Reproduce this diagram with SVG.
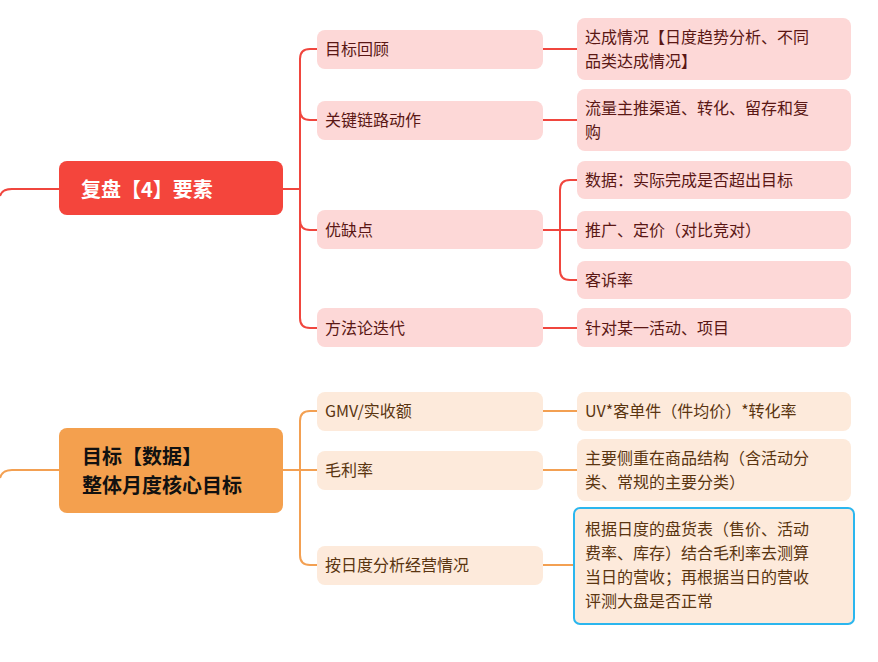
<svg xmlns="http://www.w3.org/2000/svg" width="878" height="662" viewBox="0 0 878 662">
<style>
text{font-family:"Noto Sans CJK SC","Liberation Sans",sans-serif;font-size:16px}
.r{fill:#fdd8d7}.rt{fill:#5a1714}
.o{fill:#fdeadb}.ot{fill:#5a3510}
.rl{stroke:#f0463e;stroke-width:2;fill:none}
.ol{stroke:#f3a052;stroke-width:2;fill:none}
.h{font-size:20px;font-weight:bold}
</style>
<rect width="878" height="662" fill="#fff"/>
<g id="connectors">
<path class="rl" d="M0,196 Q2,189 12,189 H59"/>
<path class="rl" d="M283,189 H300 M300,189 V59 Q300,49 310,49 H317 M300,110 Q300,120 310,120 H317 M300,189 V318 Q300,328 310,328 H317 M300,220 Q300,230 310,230 H317"/>
<path class="rl" d="M543,49 H577 M543,120 H577 M543,328 H577 M543,230 H560 M560,230 V190 Q560,180 570,180 H577 M560,230 H577 M560,230 V270 Q560,280 570,280 H577"/>
<path class="ol" d="M0,478 Q2,470 12,470 H59"/>
<path class="ol" d="M283,470 H317 M300,470 V421 Q300,411 310,411 H317 M300,470 V555 Q300,565 310,565 H317"/>
<path class="ol" d="M543,411 H577 M543,470 H577 M543,565 H573"/>
</g>
<g id="n1"><rect x="59" y="161" width="224" height="54" rx="8" fill="#f4453c"/><text x="81" y="197" class="h" fill="#fff">复盘【4】要素</text></g>
<g id="n2"><rect x="317" y="30" width="226" height="39" rx="8" class="r"/><text x="325" y="55" class="rt">目标回顾</text></g>
<g id="n3"><rect x="317" y="101" width="226" height="39" rx="8" class="r"/><text x="325" y="126" class="rt">关键链路动作</text></g>
<g id="n4"><rect x="317" y="210" width="226" height="39" rx="8" class="r"/><text x="325" y="236" class="rt">优缺点</text></g>
<g id="n5"><rect x="317" y="308" width="226" height="39" rx="8" class="r"/><text x="325" y="334" class="rt">方法论迭代</text></g>
<g id="n6"><rect x="577" y="18" width="274" height="62" rx="8" class="r"/><text class="rt"><tspan x="585" y="43">达成情况【日度趋势分析、不同</tspan><tspan x="585" y="67">品类达成情况】</tspan></text></g>
<g id="n7"><rect x="577" y="89" width="274" height="62" rx="8" class="r"/><text class="rt"><tspan x="585" y="114">流量主推渠道、转化、留存和复</tspan><tspan x="585" y="138">购</tspan></text></g>
<g id="n8"><rect x="577" y="161" width="274" height="38" rx="8" class="r"/><text x="585" y="186" class="rt">数据：实际完成是否超出目标</text></g>
<g id="n9"><rect x="577" y="211" width="274" height="38" rx="8" class="r"/><text x="585" y="236" class="rt">推广、定价（对比竞对）</text></g>
<g id="n10"><rect x="577" y="261" width="274" height="38" rx="8" class="r"/><text x="585" y="286" class="rt">客诉率</text></g>
<g id="n11"><rect x="577" y="308" width="274" height="39" rx="8" class="r"/><text x="585" y="334" class="rt">针对某一活动、项目</text></g>
<g id="n12"><rect x="59" y="428" width="224" height="85" rx="8" fill="#f4a04e"/><text class="h" fill="#111"><tspan x="82" y="464">目标【数据】</tspan><tspan x="82" y="493">整体月度核心目标</tspan></text></g>
<g id="n13"><rect x="317" y="392" width="226" height="39" rx="8" class="o"/><text x="325" y="417" class="ot">GMV/实收额</text></g>
<g id="n14"><rect x="317" y="451" width="226" height="39" rx="8" class="o"/><text x="325" y="476" class="ot">毛利率</text></g>
<g id="n15"><rect x="317" y="546" width="226" height="39" rx="8" class="o"/><text x="325" y="571" class="ot">按日度分析经营情况</text></g>
<g id="n16"><rect x="577" y="392" width="274" height="39" rx="8" class="o"/><text x="585" y="417" class="ot">UV*客单件（件均价）*转化率</text></g>
<g id="n17"><rect x="577" y="439" width="274" height="62" rx="8" class="o"/><text class="ot"><tspan x="585" y="464">主要侧重在商品结构（含活动分</tspan><tspan x="585" y="488">类、常规的主要分类）</tspan></text></g>
<g id="n18"><rect x="574" y="508" width="280" height="116" rx="6" class="o" stroke="#2bb6ee" stroke-width="2"/><text class="ot"><tspan x="585" y="535">根据日度的盘货表（售价、活动</tspan><tspan x="585" y="559">费率、库存）结合毛利率去测算</tspan><tspan x="585" y="583">当日的营收；再根据当日的营收</tspan><tspan x="585" y="607">评测大盘是否正常</tspan></text></g>
</svg>
